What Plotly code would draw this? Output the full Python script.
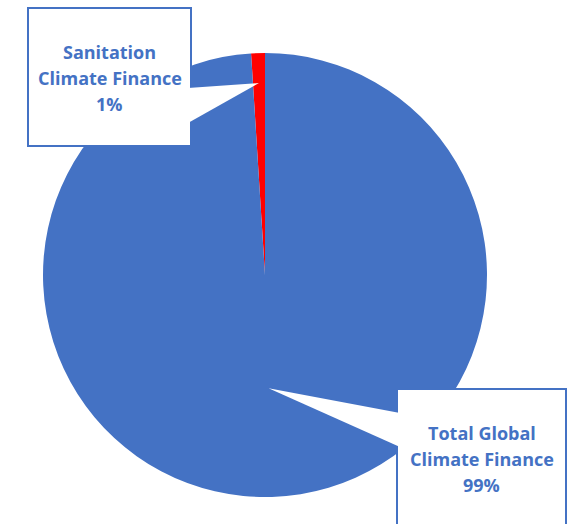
import math
import plotly.graph_objects as go

# ---- data ----
labels = ["Sanitation Climate Finance", "Total Global Climate Finance"]
values = [1, 99]
pct_labels = ["1%", "99%"]
colors = ["#FF0000", "#4472C4"]

W, H = 575, 524
CX, CY, R = 265, 275, 222
BLUE = "#4472C4"

def px(x):
    return x / W

def py(y):
    return 1 - y / H

total = sum(values)
red_span = values[0] / total * 360

fig = go.Figure(go.Pie(
    labels=labels, values=values, sort=False, direction="clockwise",
    rotation=-red_span, textinfo="none", hoverinfo="label+percent",
    marker=dict(colors=colors, line=dict(width=0)),
    domain=dict(x=[px(CX - R), px(CX + R)], y=[py(CY + R), py(CY - R)]),
    showlegend=False,
))

# slice mid-angles (from 12 o'clock, counterclockwise visually) computed from data
mids = []
acc = 0
for v in values:
    mids.append((acc + v / 2) / total * 360)
    acc += v

def tip(theta_deg, rfrac):
    t = math.radians(theta_deg)
    return CX - rfrac * R * math.sin(t), CY - rfrac * R * math.cos(t)

shapes = []
annotations = []

def callout(box, base, tip_xy, lines, line_ys):
    x0, y0, x1, y1 = box
    shapes.append(dict(type="rect", xref="paper", yref="paper",
                       x0=px(x0), x1=px(x1), y0=py(y1), y1=py(y0),
                       fillcolor="white", line=dict(color=BLUE, width=2),
                       layer="above"))
    (bx1, by1), (bx2, by2) = base
    tx, ty = tip_xy
    path = (f"M {px(bx1)} {py(by1)} L {px(tx)} {py(ty)} "
            f"L {px(bx2)} {py(by2)} Z")
    shapes.append(dict(type="path", xref="paper", yref="paper", path=path,
                       fillcolor="white", line=dict(width=0), layer="above"))
    cx = (x0 + x1) / 2
    for txt, yy in zip(lines, line_ys):
        annotations.append(dict(x=px(cx), y=py(yy), xref="paper", yref="paper",
                                text=f"<b>{txt}</b>", showarrow=False,
                                xanchor="center", yanchor="middle",
                                font=dict(family="Open Sans", size=18, color=BLUE)))

t1 = tip(mids[0], 0.865)
callout((28, 8, 191, 146), ((188, 88), (188, 123)), t1,
        ["Sanitation", "Climate Finance", pct_labels[0]], [52, 78, 104])

t2 = tip(mids[1], 0.51)
callout((397, 389, 566, 540), ((400, 413), (400, 447)), t2,
        ["Total Global", "Climate Finance", pct_labels[1]], [433, 459, 485])

fig.update_layout(
    width=W, height=H, margin=dict(l=0, r=0, t=0, b=0),
    paper_bgcolor="white", plot_bgcolor="white",
    shapes=shapes, annotations=annotations,
)

fig.write_html("out.html")
